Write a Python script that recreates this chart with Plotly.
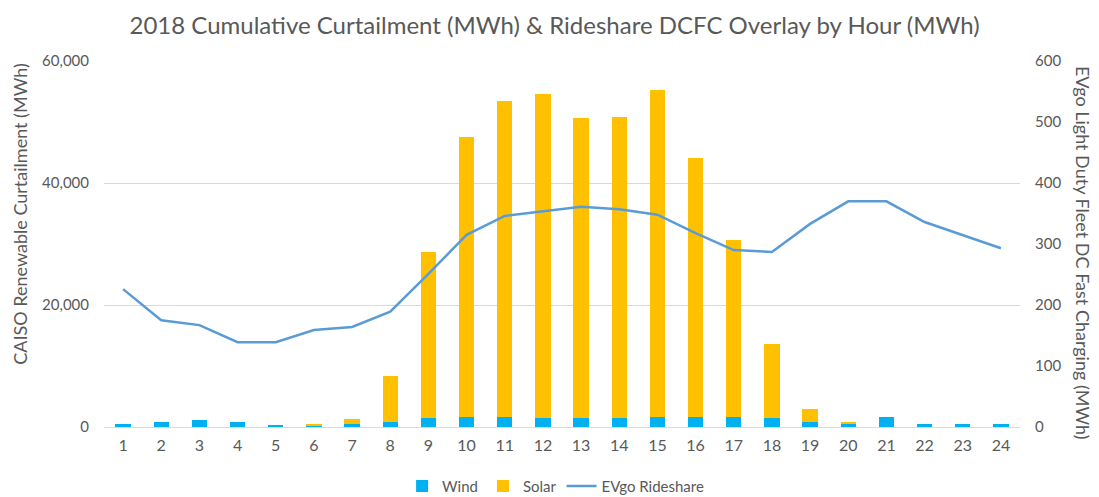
import plotly.graph_objects as go

hours = [str(h) for h in range(1, 25)]
wind = [560, 820, 1100, 820, 400, 280, 560, 820, 1420, 1690, 1690, 1420,
        1420, 1420, 1690, 1690, 1690, 1420, 820, 560, 1690, 560, 560, 560]
solar_total = [560, 820, 1100, 820, 400, 560, 1380, 8400, 28700, 47600, 53400, 54600,
               50600, 50800, 55200, 44100, 30700, 13600, 2900, 820, 1690, 560, 560, 560]
solar = [t - w for t, w in zip(solar_total, wind)]
evgo = [226, 175, 167, 139, 139, 159, 164, 189, 251, 315, 346, 354,
        361, 357, 348, 318, 290, 287, 333, 370, 370, 336, 315, 293]

left_ticks = [0, 20000, 40000, 60000]
right_ticks = [0, 100, 200, 300, 400, 500, 600]

FONT = "Lato, 'Noto Sans', sans-serif"
GREY = "#595959"

fig = go.Figure()
fig.add_trace(go.Bar(x=hours, y=wind, name="Wind", marker=dict(color="#00B0F0", line_width=0)))
fig.add_trace(go.Bar(x=hours, y=solar, name="Solar", marker=dict(color="#FFC000", line_width=0)))
fig.add_trace(go.Scatter(x=hours, y=evgo, name="EVgo Rideshare", mode="lines",
                         line=dict(color="#5B9BD5", width=2.5), yaxis="y2"))

fig.update_layout(
    width=1091, height=489,
    paper_bgcolor="white", plot_bgcolor="white",
    barmode="stack", bargap=0.6,
    margin=dict(l=96, r=79, t=53, b=70, autoexpand=False),
    font=dict(family=FONT, size=15, color=GREY),
    title=dict(text="2018 Cumulative Curtailment (MWh) & Rideshare DCFC Overlay by Hour (MWh)",
               x=0.501, xanchor="center", y=0.965, yanchor="middle",
               font=dict(size=24, color=GREY, family=FONT)),
    xaxis=dict(type="category", showgrid=False, showline=True, linecolor="#D9D9D9",
               linewidth=1, ticks="", tickfont=dict(size=16, color=GREY), ticklabelstandoff=4),
    yaxis=dict(range=[0, 60000], tickvals=left_ticks, tickformat=",", showgrid=True,
               gridcolor="#D9D9D9", zeroline=False, showline=False, ticks="",
               tickfont=dict(size=15, color=GREY), ticklabelstandoff=14),
    yaxis2=dict(range=[0, 600], tickvals=right_ticks, overlaying="y", side="right",
                showgrid=False, zeroline=False, showline=False, ticks="",
                tickfont=dict(size=15, color=GREY), ticklabelstandoff=14),
    legend=dict(orientation="h", x=0.493, xanchor="center", y=-0.162, yanchor="middle",
                font=dict(size=15, color=GREY), traceorder="normal"),
    annotations=[
        dict(text="CAISO Renewable Curtailment (MWh)", xref="paper", yref="paper",
             x=-0.092, y=0.582, xanchor="center", yanchor="middle", textangle=-90,
             showarrow=False, font=dict(size=18, color=GREY, family=FONT)),
        dict(text="EVgo Light Duty Fleet DC Fast Charging (MWh)", xref="paper", yref="paper",
             x=1.069, y=0.475, xanchor="center", yanchor="middle", textangle=90,
             showarrow=False, font=dict(size=18, color=GREY, family=FONT)),
    ],
)

fig.write_html("out.html")
